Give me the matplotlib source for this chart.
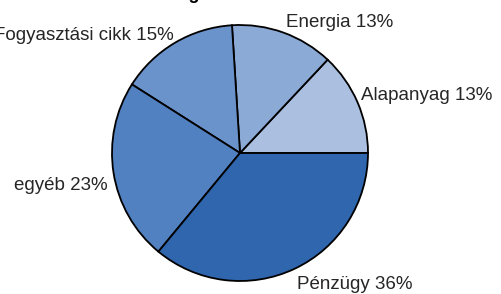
import matplotlib
matplotlib.use("Agg")
import matplotlib.pyplot as plt
from matplotlib.transforms import offset_copy

plt.rcParams["font.family"] = ["Liberation Sans", "DejaVu Sans"]

# data (counter-clockwise from 3 o'clock)
categories = ["Alapanyag", "Energia", "Fogyasztási cikk", "egyéb", "Pénzügy"]
shares = [13, 13, 15, 23, 36]
colors = ["#abc0e0", "#8caad6", "#6b93cb", "#5281c1", "#2f66ae"]
title = "A vállalati kiadások megoszlása"

W, H = 501, 294
fig = plt.figure(figsize=(W / 100, H / 100), dpi=100)

# pie centre (240, 153) px, radius 128 px
cx, cy, r = 240, 153, 128
ax = fig.add_axes([(cx - r) / W, 1 - (cy + r) / H, 2 * r / W, 2 * r / H])

labels = [f"{c} {v}%" for c, v in zip(categories, shares)]
wedges, texts = ax.pie(
    shares, labels=labels, colors=colors, startangle=0, counterclock=True,
    labeldistance=1.05, radius=1,
    wedgeprops=dict(edgecolor="black", linewidth=1.3),
    textprops=dict(fontsize=13.5, color="#262626"),
)
ax.set_xlim(-1, 1)
ax.set_ylim(-1, 1)
ax.set_aspect("equal")

# small nudges (points) so the labels sit where the original put them
nudges = [(-1.5, 3), (0, 3), (1.5, 1), (0, -8), (0, -7)]
for t, (dx, dy) in zip(texts, nudges):
    t.set_transform(offset_copy(t.get_transform(), fig=fig, x=dx, y=dy,
                                units="points"))
    t.set_clip_on(False)

# title sits mostly above the cropped top edge
fig.text(265 / W, 1 + 1 / H, title, ha="right", va="baseline",
         fontsize=13, fontweight="bold", color="black")

fig.savefig("out.png", dpi=100)
